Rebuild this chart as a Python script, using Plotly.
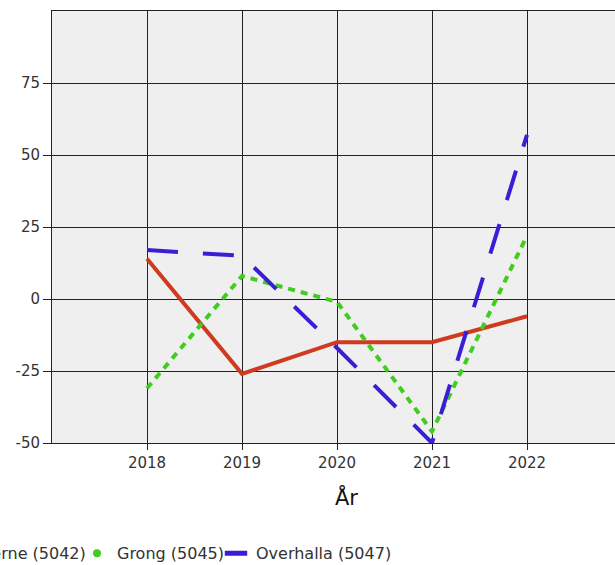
import plotly.graph_objects as go

years = [2018, 2019, 2020, 2021, 2022]
lierne = [14, -26, -15, -15, -6]
grong = [-31, 8, -1, -46, 22]
overhalla = [17, 15, -17, -50, 57]

names = ["Lierne (5042)", "Grong (5045)", "Overhalla (5047)"]
colors = ["#d03a1f", "#3fcd1e", "#3a1ed6"]
dashes = ["solid", "7px,6px", "31px,25px"]
series = [lierne, grong, overhalla]
legend_symbols = ["square", "circle", "line-ew"]

y_ticks = [-50, -25, 0, 25, 50, 75]
y_ticktext = ["-50", "-25", "0", "25", "50", "75"]
x_ticktext = ["2018", "2019", "2020", "2021", "2022"]
x_title = "År"

fig = go.Figure()
for name, col, dash, vals in zip(names, colors, dashes, series):
    fig.add_trace(go.Scatter(
        x=years, y=vals, mode="lines", name=name, showlegend=False,
        line=dict(color=col, width=4, dash=dash),
    ))

for name, col, sym in zip(names, colors, legend_symbols):
    if sym == "line-ew":
        marker = dict(symbol=sym, size=17, line=dict(color=col, width=7))
    else:
        marker = dict(symbol=sym, size=8, color=col)
    fig.add_trace(go.Scatter(
        x=[None], y=[None], mode="markers", name=name, marker=marker,
        showlegend=True,
    ))

# empty spacer entry so the last legend label is not clipped by the fixed entry width
fig.add_trace(go.Scatter(
    x=[None], y=[None], mode="markers", name=" ",
    marker=dict(size=1, opacity=0), showlegend=True, hoverinfo="skip",
))

W, H = 615, 565
L, T = 52, 11
PW, PH = W - L, 432
B = H - T - PH

font = "DejaVu Sans, sans-serif"
fig.update_layout(
    width=W, height=H,
    margin=dict(l=L, r=0, t=T, b=B, autoexpand=False),
    paper_bgcolor="white",
    plot_bgcolor="#efefef",
    font=dict(family=font, size=15, color="#333333"),
    showlegend=True,
    legend=dict(
        orientation="h", x=-0.2025, xanchor="left", y=-0.2158, yanchor="top",
        font=dict(family=font, size=16, color="#333333"),
        bgcolor="rgba(0,0,0,0)", itemwidth=30,
        entrywidth=94, entrywidthmode="pixels",
    ),
    xaxis=dict(
        range=[2017, 2017 + PW / 95], tickvals=years, ticktext=x_ticktext,
        showgrid=True, gridcolor="#222222", gridwidth=1,
        showline=True, linecolor="#222222", linewidth=1, mirror=True,
        ticks="outside", ticklen=6, tickcolor="#222222",
        tickfont=dict(family=font, size=15, color="#333333"),
        zeroline=False,
    ),
    yaxis=dict(
        range=[-50, 100], tickvals=y_ticks, ticktext=y_ticktext,
        showgrid=True, gridcolor="#222222", gridwidth=1,
        showline=True, linecolor="#222222", linewidth=1, mirror=False,
        ticks="outside", ticklen=8, tickcolor="#222222",
        tickfont=dict(family=font, size=15, color="#333333"),
        zeroline=False,
    ),
    annotations=[dict(
        text=x_title, xref="paper", yref="paper",
        x=(346 - 52) / PW, y=-(497 - 443) / PH,
        xanchor="center", yanchor="middle", showarrow=False,
        font=dict(family=font, size=21, color="#111111"),
    )],
)

fig.write_html(
    "out.html",
    config={"displayModeBar": False},
    post_script="document.body.style.margin='0';",
)
